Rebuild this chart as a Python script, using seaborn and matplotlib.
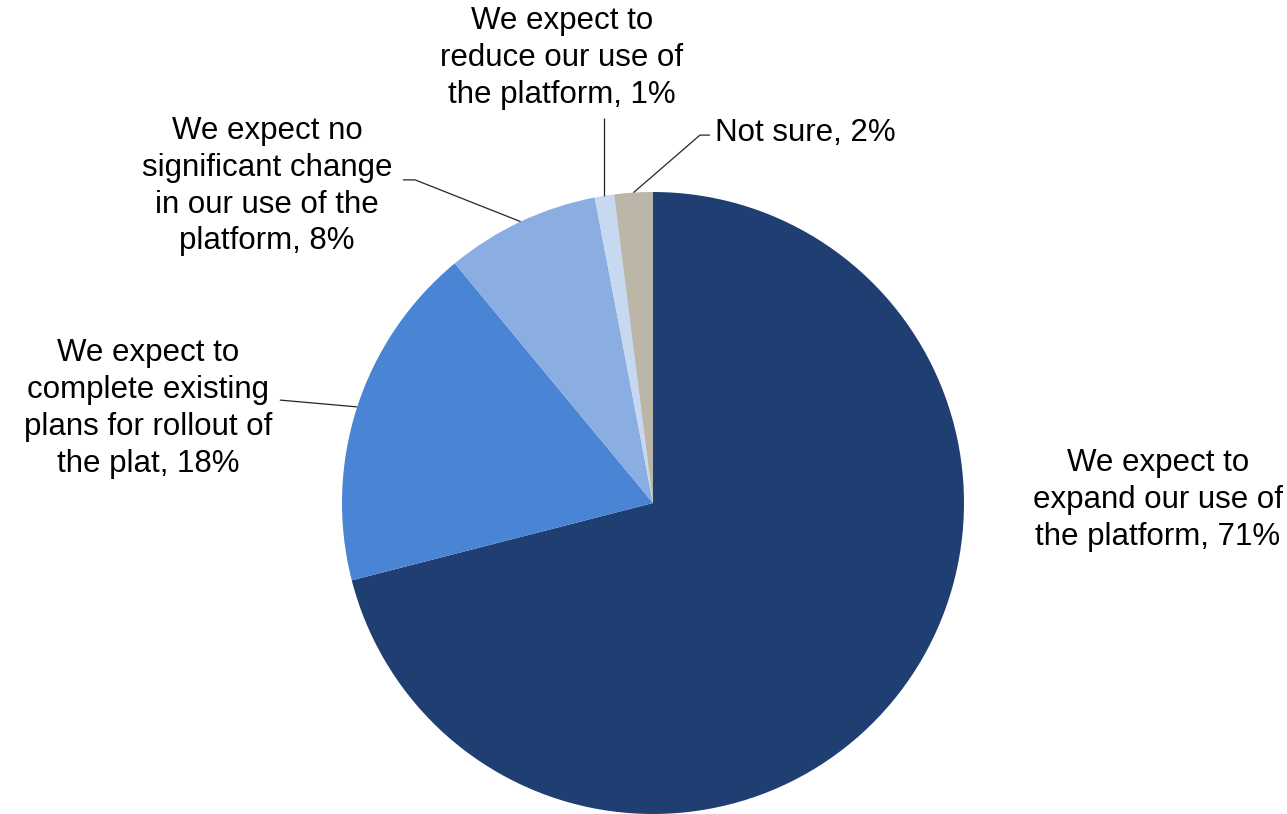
import numpy as np
import matplotlib
matplotlib.use("Agg")
import matplotlib.pyplot as plt
import seaborn as sns

# Survey responses on future use of the platform (percent of respondents)
categories = [
    "We expect to\nexpand our use of\nthe platform",
    "We expect to\ncomplete existing\nplans for rollout of\nthe plat",
    "We expect no\nsignificant change\nin our use of the\nplatform",
    "We expect to\nreduce our use of\nthe platform",
    "Not sure",
]
values = [71, 18, 8, 1, 2]
slice_colors = ["#1F3F73", "#4A84D5", "#8BAEE2", "#C6D9F1", "#BBB6A7"]

sns.set_theme(style="white")
plt.rcParams["font.family"] = ["Liberation Sans", "DejaVu Sans"]

fig = plt.figure(figsize=(12.87, 8.14), dpi=100)
ax = fig.add_axes([0, 0, 1, 1])

wedges, _ = ax.pie(values, colors=sns.color_palette(slice_colors), startangle=90,
                   counterclock=False, radius=1.0, center=(0, 0),
                   wedgeprops=dict(linewidth=0))

ax.set_xlim(-2.0997, 2.0386)
ax.set_ylim(-1.0, 1.6174)
ax.set_aspect("equal", adjustable="datalim")
ax.axis("off")

labels = [f"{c}, {v}%" for c, v in zip(categories, values)]

# label placement: text anchor, alignment, and leader elbow points toward the text
layout = [
    dict(xy=(1.624, 0.01), ha="center", path=None),
    dict(xy=(-1.624, 0.305), ha="center", path=[(-1.20, 0.331)]),
    dict(xy=(-1.241, 1.019), ha="center", path=[(-0.765, 1.039), (-0.804, 1.039)]),
    dict(xy=(-0.293, 1.431), ha="center", path="vertical"),
    dict(xy=(0.199, 1.190), ha="left", path=[(0.151, 1.183), (0.183, 1.183)]),
]

for w, lab, lay in zip(wedges, labels, layout):
    ang = np.deg2rad((w.theta1 + w.theta2) / 2)
    px, py = np.cos(ang), np.sin(ang)
    ax.text(lay["xy"][0], lay["xy"][1], lab, ha=lay["ha"], va="center",
            fontsize=22.5, color="#000000", linespacing=1.3, multialignment="center")
    if lay["path"] is None:
        continue
    if lay["path"] == "vertical":
        pts = [(px, py), (px, 1.238)]
    else:
        pts = [(px, py)] + lay["path"]
    xs, ys = zip(*pts)
    ax.plot(xs, ys, color="#262626", linewidth=0.9, solid_capstyle="butt")

fig.savefig("out.png", dpi=100, facecolor="white")
